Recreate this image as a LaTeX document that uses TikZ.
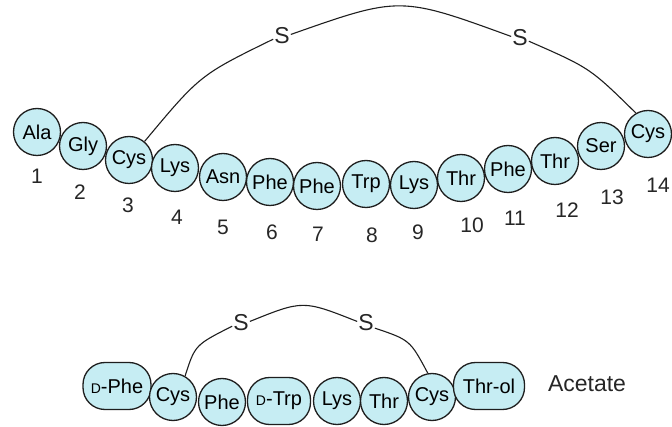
\documentclass[tikz,border=0pt]{standalone}
\usepackage{fontspec}
\setmainfont{Liberation Sans}
\definecolor{resfill}{RGB}{198,237,243}
\definecolor{resline}{RGB}{30,30,30}
\tikzset{
  res/.style={circle, draw=resline, line width=1.3pt, fill=resfill, minimum size=47pt, inner sep=0pt, font=\fontsize{20}{20}\selectfont},
  rres/.style={rectangle, rounded corners=22pt, draw=resline, line width=1.3pt, fill=resfill, minimum height=47pt, inner sep=0pt, font=\fontsize{20}{20}\selectfont},
  num/.style={font=\fontsize{21}{21}\selectfont, text=black!85, inner sep=0pt},
  sulf/.style={font=\fontsize{23}{23}\selectfont, text=black!85, inner sep=1pt},
  bond/.style={draw=resline, line width=1.1pt}
}
\newcommand{\dsc}{{\fontsize{14}{14}\selectfont D}}
\begin{document}
\begin{tikzpicture}[x=1pt,y=-1pt]
\useasboundingbox (0,0) rectangle (672,427);
% top chain
\node[res] (a1) at (37,132) {Ala};
\node[res] (a2) at (83,146) {Gly};
\node[res] (a3) at (129,160) {Cys};
\node[res] (a4) at (175,168) {Lys};
\node[res] (a5) at (223,177) {Asn};
\node[res] (a6) at (270,182) {Phe};
\node[res] (a7) at (317,186) {Phe};
\node[res] (a8) at (366,184) {Trp};
\node[res] (a9) at (414,185) {Lys};
\node[res] (a10) at (461,178) {Thr};
\node[res] (a11) at (508,169) {Phe};
\node[res] (a12) at (555,161) {Thr};
\node[res] (a13) at (601,146) {Ser};
\node[res] (a14) at (648,134) {Cys};
% numbers
\node[num] (n1) at (37,176) {1};
\node[num] (n2) at (80,192) {2};
\node[num] (n3) at (128,205) {3};
\node[num] (n4) at (177,217) {4};
\node[num] (n5) at (223,227) {5};
\node[num] (n6) at (272,232) {6};
\node[num] (n7) at (318,234) {7};
\node[num] (n8) at (372,235) {8};
\node[num] (n9) at (418,232) {9};
\node[num] (n10) at (472,225) {10};
\node[num] (n11) at (515,218) {11};
\node[num] (n12) at (567,210) {12};
\node[num] (n13) at (612,197) {13};
\node[num] (n14) at (658,185) {14};
% top disulfide
\node[sulf] (s1) at (282,36) {S};
\node[sulf] (s2) at (520,38) {S};
\draw[bond] (a3.50) .. controls (200,75) .. (s1.200);
\draw[bond] (s1.10) .. controls (400,-4) .. (s2.170);
\draw[bond] (s2.-20) .. controls (590,68) .. (a14.120);
% bottom chain
\node[rres, minimum width=68pt] (b1) at (117,386) {\dsc-Phe};
\node[res] (b2) at (173,397) {Cys};
\node[res] (b3) at (222,402) {Phe};
\node[rres, minimum width=63pt] (b4) at (279,401) {\dsc-Trp};
\node[res] (b5) at (337,401) {Lys};
\node[res] (b6) at (384,401) {Thr};
\node[res] (b7) at (432,397) {Cys};
\node[rres, minimum width=71pt] (b8) at (489,386) {Thr-ol};
\node[font=\fontsize{23}{23}\selectfont, text=black!85] (ac) at (587,384) {Acetate};
% bottom disulfide
\node[sulf] (t1) at (241,323) {S};
\node[sulf] (t2) at (366,323) {S};
\draw[bond] (b2.60) .. controls (195,345) .. (t1.200);
\draw[bond] (t1.10) .. controls (303,300) .. (t2.170);
\draw[bond] (t2.-30) .. controls (410,340) .. (b7.100);
\end{tikzpicture}
\end{document}
